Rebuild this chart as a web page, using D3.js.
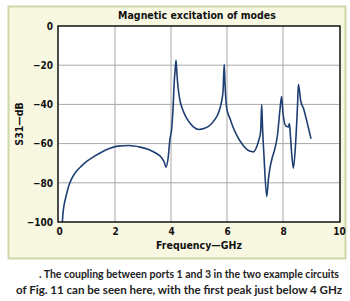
<!DOCTYPE html>
<meta charset="utf-8">
<style>
body { margin: 0; background: #fff; }
.grid line { stroke: #a8a8a8; stroke-width: 1px; }
.line { fill: none; stroke: #1e3f73; stroke-width: 1.6px; }
.tick text { font-family: "Liberation Sans Narrow", "DejaVu Sans Condensed", sans-serif; font-weight: bold; font-size: 10px; fill: #111; }
</style>
<body>
<script src="https://d3js.org/d3.v7.min.js"></script>
<script>
// frequency (GHz) and S31 (dB)
var freq = [0.12, 0.14, 0.18, 0.25, 0.35, 0.45, 0.6, 0.8, 1.0, 1.2, 1.5, 1.8, 2.1, 2.5, 2.9, 3.2, 3.45, 3.65, 3.76, 3.82,
            3.9, 3.96, 4.02, 4.08, 4.11, 4.15, 4.18, 4.21, 4.25, 4.32, 4.4, 4.5, 4.65, 4.8, 5.0, 5.2, 5.4,
            5.55, 5.69, 5.8, 5.86, 5.9, 5.93, 5.99, 6.1, 6.2, 6.35, 6.58, 6.8, 6.95, 7.05, 7.12, 7.2, 7.24,
            7.27, 7.32, 7.42, 7.48, 7.54, 7.62, 7.71, 7.8, 7.89, 7.95, 8.0, 8.1, 8.19, 8.23, 8.26, 8.31,
            8.37, 8.45, 8.52, 8.55, 8.63, 8.73, 8.9, 9.0];
var s31 = [-100, -96, -91.5, -87, -81.5, -78, -74.5, -71.5, -69, -67, -64.5, -62.5, -61.3, -61, -61.8, -63, -64.8, -67, -69.5, -72,
           -67, -58, -53, -40, -30, -22, -17.5, -24, -31, -38, -42, -45.5, -49, -51.5, -52.8, -52.2, -50.5,
           -48, -44.5, -39, -33, -19.5, -30, -42, -47, -51, -55.8, -61, -63.8, -64.2, -62, -59, -54, -40,
           -52, -66, -87, -78, -72, -67, -62.6, -56, -43, -36, -44.5, -51, -51.5, -49.8, -55, -65,
           -72.5, -60, -40, -29.7, -38, -42, -51.5, -57.5];

var xTicks = [0, 2, 4, 6, 8, 10];
var yTicks = [0, -20, -40, -60, -80, -100];
var title = "Magnetic excitation of modes";
var xLabel = "Frequency\u2014GHz";
var yLabel = "S31\u2014dB";
var caption = [". The coupling between ports 1 and 3 in the two example circuits",
               "of Fig. 11 can be seen here, with the first peak just below 4 GHz"];

var W = 350, H = 301;
var margin = {left: 59, right: 11, top: 26, bottom: 79};
var width = W - margin.left - margin.right,
    height = H - margin.top - margin.bottom;

var svg = d3.select("body").append("svg")
    .attr("width", W)
    .attr("height", H);

// pale panel behind the chart
svg.append("rect")
    .attr("x", 8.5).attr("y", 6.5)
    .attr("width", 337).attr("height", 252)
    .attr("fill", "#f8f8e2")
    .attr("stroke", "#cdd7a8")
    .attr("stroke-width", 2);

var g = svg.append("g")
    .attr("transform", "translate(" + margin.left + "," + margin.top + ")");

var x = d3.scaleLinear().domain([0, 10]).range([0, width]);
var y = d3.scaleLinear().domain([-100, 0]).range([height, 0]);

g.append("rect")
    .attr("x", -1).attr("y", 0)
    .attr("width", width + 2).attr("height", height)
    .attr("fill", "#fff");

// grid
g.append("g").attr("class", "grid")
  .selectAll("line").data(xTicks.slice(1, -1)).join("line")
    .attr("x1", d => x(d)).attr("x2", d => x(d))
    .attr("y1", 0).attr("y2", height);
g.append("g").attr("class", "grid")
  .selectAll("line").data(yTicks.slice(1, -1)).join("line")
    .attr("x1", 0).attr("x2", width)
    .attr("y1", d => y(d)).attr("y2", d => y(d));

var pts = freq.map((f, i) => [f, s31[i]]);
g.append("path")
    .datum(pts)
    .attr("class", "line")
    .attr("d", d3.line()
      .x(d => x(d[0]))
      .y(d => y(d[1]))
      .curve(d3.curveMonotoneX));

// frame
g.append("rect")
    .attr("x", -1).attr("y", 0)
    .attr("width", width + 2).attr("height", height)
    .attr("fill", "none")
    .attr("stroke", "#111")
    .attr("stroke-width", 1.5);

// axes
var fmt = d => d < 0 ? "\u2212" + Math.abs(d) : d;
g.append("g")
    .attr("transform", "translate(0," + height + ")")
    .call(d3.axisBottom(x).tickValues(xTicks).tickSize(0).tickPadding(6))
    .call(a => a.select(".domain").remove());
g.append("g")
    .call(d3.axisLeft(y).tickValues(yTicks).tickFormat(fmt).tickSize(0).tickPadding(6))
    .call(a => a.select(".domain").remove());

var labFont = "\"Liberation Sans Narrow\", \"DejaVu Sans Condensed\", sans-serif";

svg.append("text")
    .attr("x", 197).attr("y", 19)
    .attr("text-anchor", "middle")
    .attr("font-size", 10.5)
    .attr("font-family", labFont).attr("font-weight", "bold").attr("fill", "#111")
    .text(title);

svg.append("text")
    .attr("x", 199).attr("y", 249)
    .attr("text-anchor", "middle")
    .attr("font-size", 10.5)
    .attr("font-family", labFont).attr("font-weight", "bold").attr("fill", "#111")
    .text(xLabel);

svg.append("text")
    .attr("transform", "translate(23," + (margin.top + height / 2) + ") rotate(-90)")
    .attr("text-anchor", "middle")
    .attr("font-size", 10.5)
    .attr("font-family", labFont).attr("font-weight", "bold").attr("fill", "#111")
    .text(yLabel);

svg.selectAll(".cap").data(caption).join("text")
    .attr("class", "cap")
    .attr("x", (d, i) => i === 0 ? 39 : 16)
    .attr("y", (d, i) => 278 + i * 16)
    .attr("font-size", 11)
    .attr("font-family", "Lato, sans-serif")
    .attr("font-weight", "bold")
    .attr("fill", "#222")
    .attr("textLength", (d, i) => i === 0 ? 300 : 326)
    .attr("lengthAdjust", "spacingAndGlyphs")
    .text(d => d);
</script>
</body>
